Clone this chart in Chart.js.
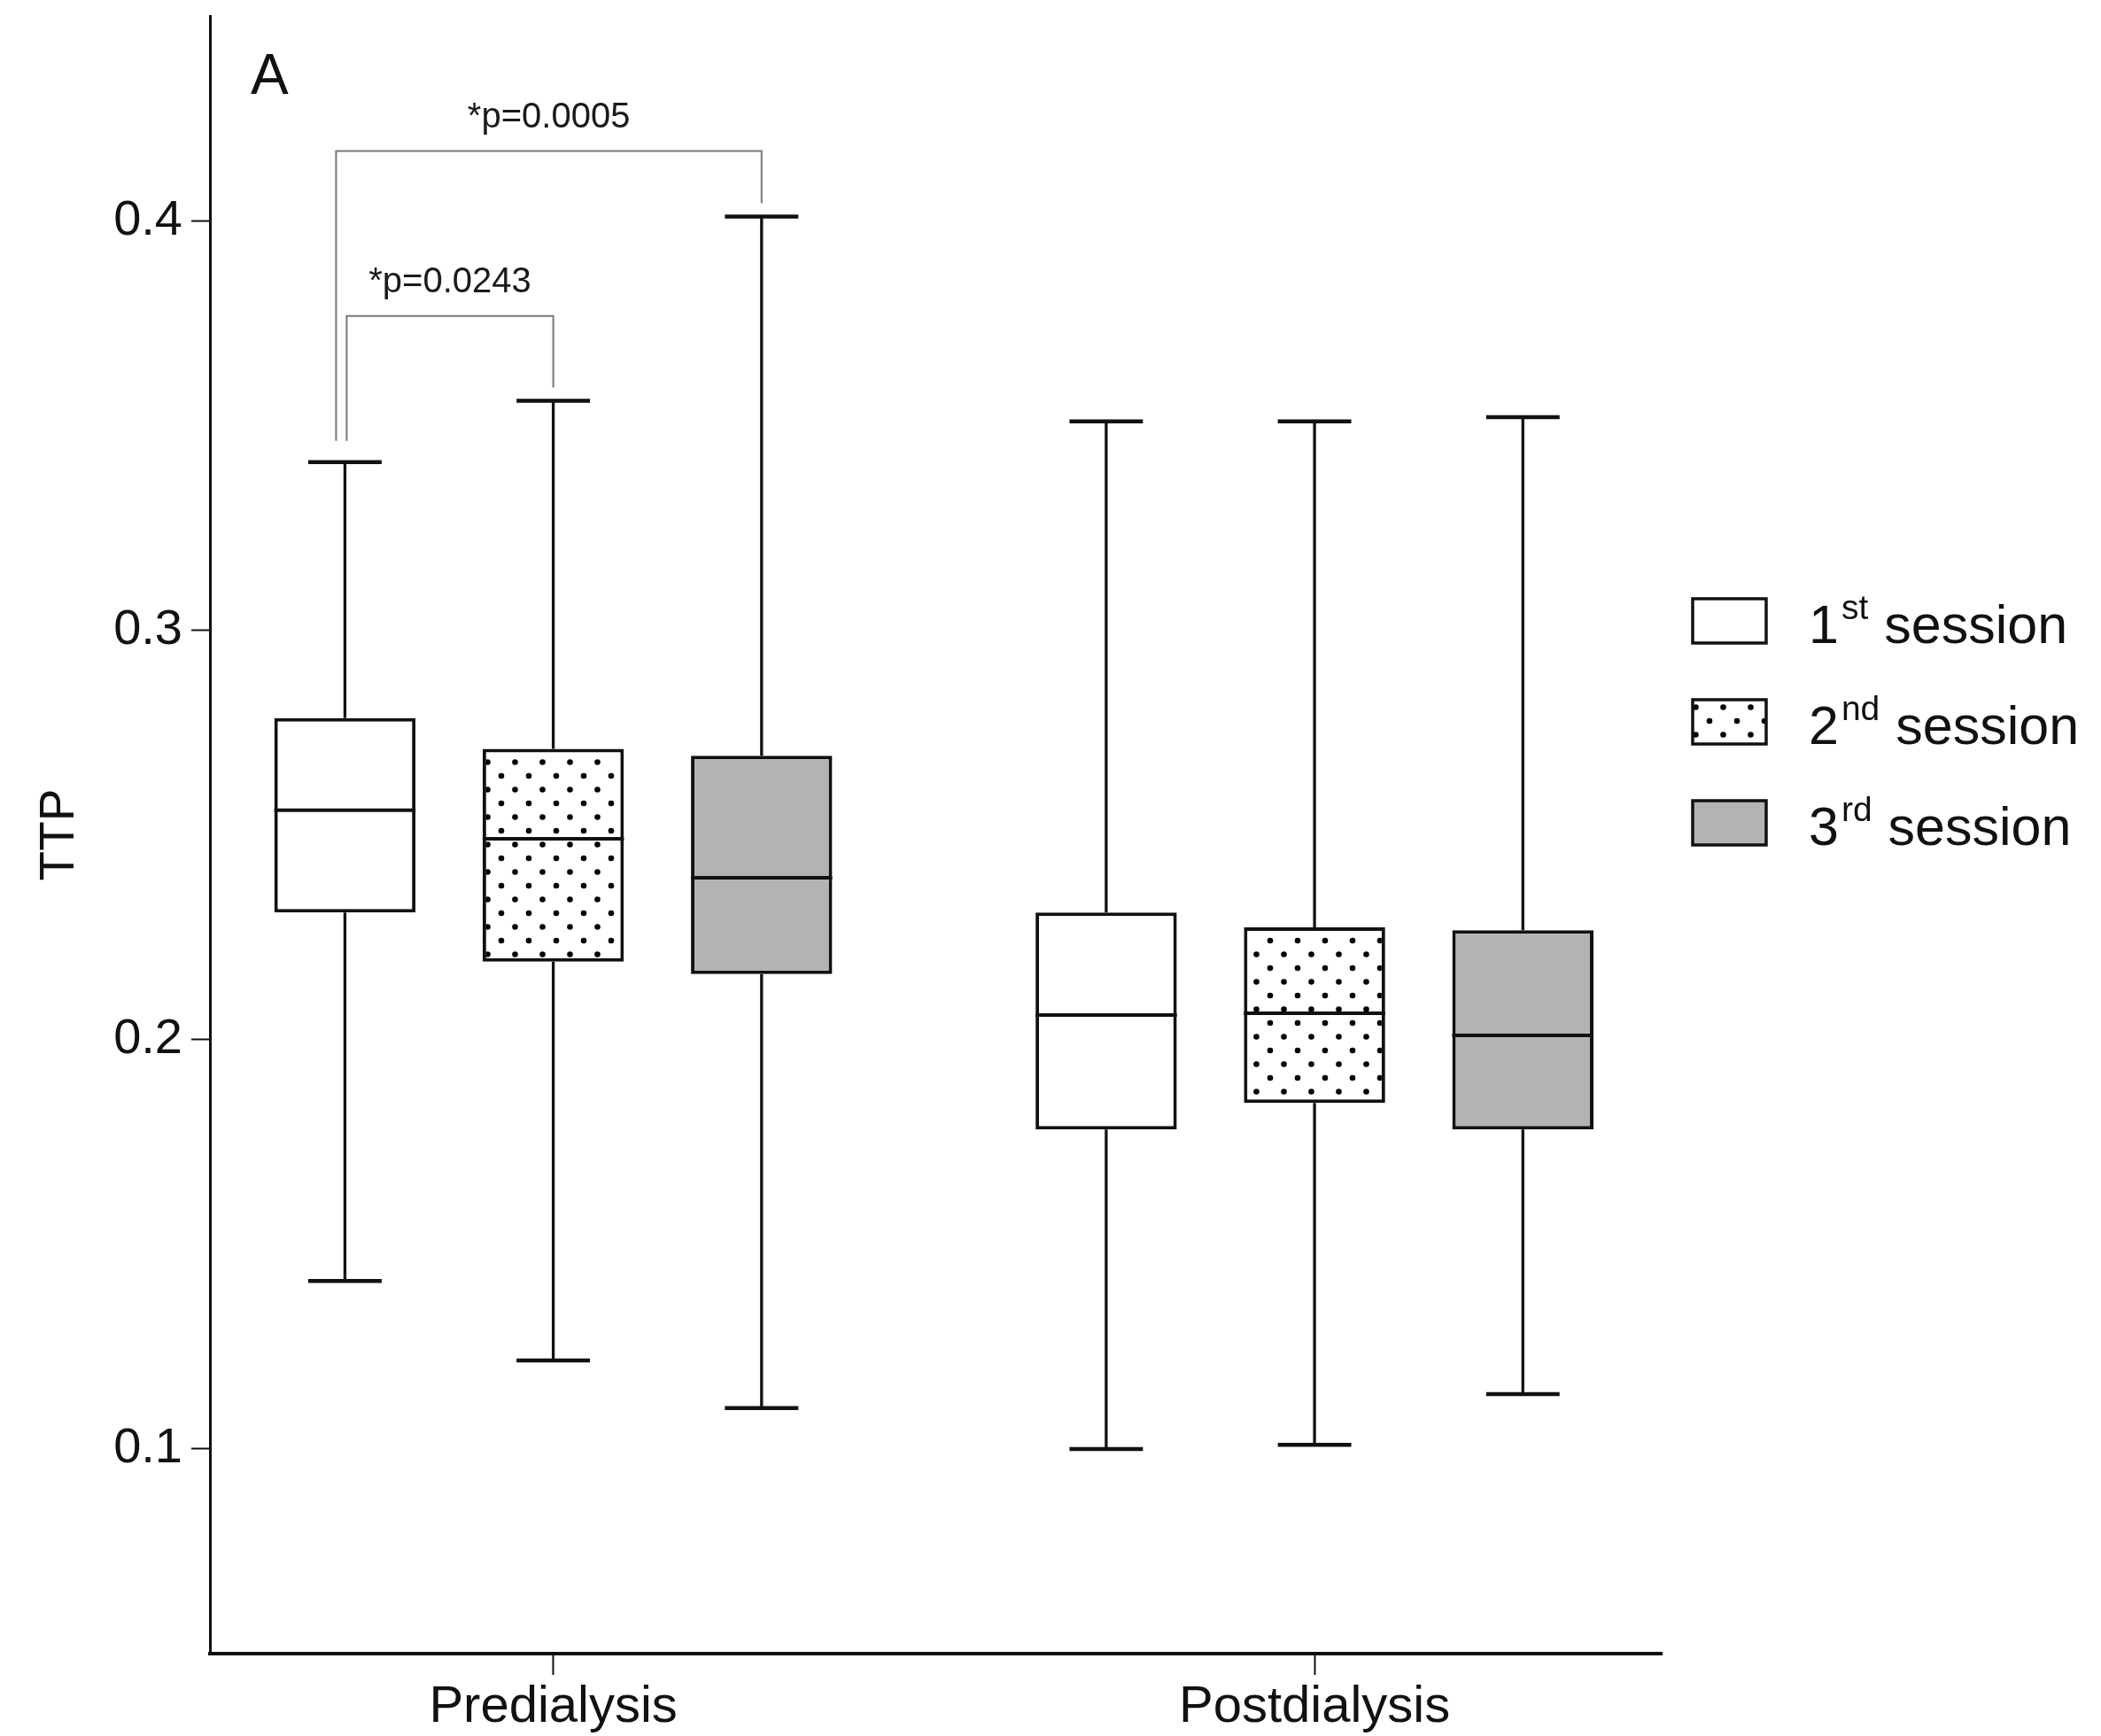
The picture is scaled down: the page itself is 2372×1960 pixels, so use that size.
<!DOCTYPE html>
<html>
<head>
<meta charset="utf-8">
<script src="https://cdn.jsdelivr.net/npm/chart.js@4.4.1/dist/chart.umd.min.js"></script>
<style>
  html, body { margin: 0; padding: 0; background: #fff; }
  #wrap { width: 2372px; height: 1960px; position: relative; }
</style>
</head>
<body>
<div id="wrap"><canvas id="ttpChart"></canvas></div>
<script>
// categories
const groups = ['Predialysis', 'Postdialysis'];
const groupX = [0, 1];
const sessionLabels = ['1st session', '2nd session', '3rd session'];
const yTicks = [0.1, 0.2, 0.3, 0.4];

// box plot values per session: [Predialysis, Postdialysis]
const s1Min = [0.141, 0.100];
const s1Q1 = [0.231, 0.178];
const s1Median = [0.256, 0.206];
const s1Q3 = [0.2785, 0.231];
const s1Max = [0.341, 0.351];

const s2Min = [0.1216, 0.101];
const s2Q1 = [0.219, 0.1845];
const s2Median = [0.249, 0.2064];
const s2Q3 = [0.271, 0.2274];
const s2Max = [0.356, 0.351];

const s3Min = [0.110, 0.1134];
const s3Q1 = [0.216, 0.178];
const s3Median = [0.2395, 0.201];
const s3Q3 = [0.2693, 0.2267];
const s3Max = [0.401, 0.352];

// significance brackets (Predialysis group, session indices)
const pLabels = ['*p=0.0005', '*p=0.0243'];
const pPairs = [[0, 2], [0, 1]];
const pLevels = [0.417, 0.3767];

const stats = [
  { min: s1Min, q1: s1Q1, med: s1Median, q3: s1Q3, max: s1Max },
  { min: s2Min, q1: s2Q1, med: s2Median, q3: s2Q3, max: s2Max },
  { min: s3Min, q1: s3Q1, med: s3Median, q3: s3Q3, max: s3Max },
];

const FONT = "'Liberation Sans', Arial, Helvetica, sans-serif";
const INK = '#111';

// staggered dot fill used for the 2nd session
function makeDots() {
  const c = document.createElement('canvas');
  c.width = 31;
  c.height = 31;
  const g = c.getContext('2d');
  g.fillStyle = '#fff';
  g.fillRect(0, 0, 31, 31);
  g.fillStyle = '#000';
  g.beginPath();
  g.arc(8, 8, 3.3, 0, Math.PI * 2);
  g.arc(23.5, 23.5, 3.3, 0, Math.PI * 2);
  g.fill();
  return g.createPattern(c, 'repeat');
}
const dots = makeDots();
const fills = ['#ffffff', dots, '#b3b3b3'];

const whiskers = {
  id: 'whiskers',
  beforeDatasetsDraw(chart) {
    const { ctx, scales: { y } } = chart;
    ctx.save();
    ctx.strokeStyle = INK;
    chart.data.datasets.forEach((ds, di) => {
      const s = stats[di];
      chart.getDatasetMeta(di).data.forEach((bar, i) => {
        const x = bar.x;
        const half = bar.width * 0.26;
        const yMax = y.getPixelForValue(s.max[i]);
        const yQ3 = y.getPixelForValue(s.q3[i]);
        const yQ1 = y.getPixelForValue(s.q1[i]);
        const yMin = y.getPixelForValue(s.min[i]);
        ctx.lineWidth = 3.3;
        ctx.beginPath();
        ctx.moveTo(x, yQ3); ctx.lineTo(x, yMax);
        ctx.moveTo(x, yQ1); ctx.lineTo(x, yMin);
        ctx.stroke();
        ctx.lineWidth = 4.5;
        ctx.beginPath();
        ctx.moveTo(x - half, yMax); ctx.lineTo(x + half, yMax);
        ctx.moveTo(x - half, yMin); ctx.lineTo(x + half, yMin);
        ctx.stroke();
      });
    });
    ctx.restore();
  },
  afterDatasetsDraw(chart) {
    const { ctx, scales: { y } } = chart;
    ctx.save();
    ctx.strokeStyle = INK;
    ctx.lineWidth = 4;
    chart.data.datasets.forEach((ds, di) => {
      const s = stats[di];
      chart.getDatasetMeta(di).data.forEach((bar, i) => {
        const ym = y.getPixelForValue(s.med[i]);
        ctx.beginPath();
        ctx.moveTo(bar.x - bar.width / 2, ym);
        ctx.lineTo(bar.x + bar.width / 2, ym);
        ctx.stroke();
      });
    });
    ctx.restore();
  }
};

const brackets = {
  id: 'brackets',
  afterDraw(chart) {
    const { ctx, scales: { y } } = chart;
    const leftShift = [-10, 2];
    ctx.save();
    ctx.strokeStyle = '#777';
    ctx.lineWidth = 2;
    pPairs.forEach(([a, b], k) => {
      const barA = chart.getDatasetMeta(a).data[0];
      const barB = chart.getDatasetMeta(b).data[0];
      const xa = barA.x + leftShift[k];
      const xb = barB.x;
      const yl = y.getPixelForValue(pLevels[k]);
      const ya = y.getPixelForValue(stats[a].max[0]) - 24;
      const yb = y.getPixelForValue(stats[b].max[0]) - 15;
      ctx.beginPath();
      ctx.moveTo(xa, ya);
      ctx.lineTo(xa, yl);
      ctx.lineTo(xb, yl);
      ctx.lineTo(xb, yb);
      ctx.stroke();
      ctx.fillStyle = '#1a1a1a';
      ctx.font = '40px ' + FONT;
      ctx.textAlign = 'center';
      ctx.textBaseline = 'middle';
      ctx.fillText(pLabels[k], (xa + xb) / 2, yl - 38);
    });
    // panel letter
    ctx.fillStyle = INK;
    ctx.font = '64px ' + FONT;
    ctx.textAlign = 'left';
    ctx.textBaseline = 'alphabetic';
    ctx.fillText('A', chart.chartArea.left + 46, 106);
    ctx.restore();
  }
};

const sessionLegend = {
  id: 'sessionLegend',
  afterDraw(chart) {
    const { ctx, chartArea } = chart;
    const x0 = chartArea.right + 35;
    ctx.save();
    chart.data.datasets.forEach((ds, i) => {
      const cy = 701 + i * 114;
      ctx.fillStyle = ds.backgroundColor;
      ctx.fillRect(x0, cy - 25, 83, 50);
      ctx.lineWidth = 3.5;
      ctx.strokeStyle = INK;
      ctx.strokeRect(x0, cy - 25, 83, 50);

      const m = ds.label.match(/^(\d+)(\D+?) (.*)$/);
      let tx = x0 + 131;
      const base = cy + 25;
      ctx.fillStyle = INK;
      ctx.textBaseline = 'alphabetic';
      ctx.textAlign = 'left';
      ctx.font = '61px ' + FONT;
      ctx.fillText(m[1], tx, base);
      tx += ctx.measureText(m[1]).width + 3;
      ctx.font = '39px ' + FONT;
      ctx.fillText(m[2], tx, base - 27);
      tx += ctx.measureText(m[2]).width + 18;
      ctx.font = '61px ' + FONT;
      ctx.fillText(m[3], tx, base);
    });
    ctx.restore();
  }
};

const noPad = (scale) => {
  scale.paddingTop = 0;
  scale.paddingBottom = 0;
  scale.paddingLeft = 0;
  scale.paddingRight = 0;
};

const ctx = document.getElementById('ttpChart').getContext('2d');
new Chart(ctx, {
  type: 'bar',
  data: {
    datasets: sessionLabels.map((label, di) => ({
      label,
      data: groupX.map((x, i) => ({ x, y: [stats[di].q1[i], stats[di].q3[i]] })),
      backgroundColor: fills[di],
      borderColor: INK,
      borderWidth: 4,
      borderSkipped: false,
      categoryPercentage: 0.821,
      barPercentage: 0.678,
    })),
  },
  options: {
    responsive: true,
    maintainAspectRatio: false,
    animation: false,
    layout: { padding: { left: 0, top: 18, right: 496, bottom: 0 } },
    plugins: {
      legend: { display: false },
      tooltip: { enabled: false },
    },
    scales: {
      x: {
        type: 'linear',
        min: -0.451,
        max: 1.456,
        offset: false,
        afterBuildTicks: (scale) => { scale.ticks = groupX.map(v => ({ value: v })); },
        afterFit: (scale) => { scale.height = 93; noPad(scale); },
        grid: { display: true, drawOnChartArea: false, offset: false, tickLength: 24, tickWidth: 2, tickColor: INK },
        border: { display: true, color: INK, width: 4 },
        ticks: {
          color: INK,
          padding: 2,
          maxRotation: 0,
          font: { family: FONT, size: 58 },
          callback: (v) => groups[v] ?? '',
        },
      },
      y: {
        min: 0.05,
        max: 0.45,
        afterBuildTicks: (scale) => { scale.ticks = yTicks.map(v => ({ value: v })); },
        afterFit: (scale) => { scale.width = 237; noPad(scale); },
        grid: { display: true, drawOnChartArea: false, tickLength: 21, tickWidth: 2, tickColor: INK },
        border: { display: true, color: INK, width: 3 },
        ticks: {
          color: INK,
          padding: 10,
          font: { family: FONT, size: 56 },
          callback: (v) => v.toFixed(1),
        },
        title: {
          display: true,
          text: 'TTP',
          color: INK,
          padding: { top: 35, bottom: 0 },
          font: { family: FONT, size: 55 },
        },
      },
    },
  },
  plugins: [whiskers, brackets, sessionLegend],
});
</script>
</body>
</html>
